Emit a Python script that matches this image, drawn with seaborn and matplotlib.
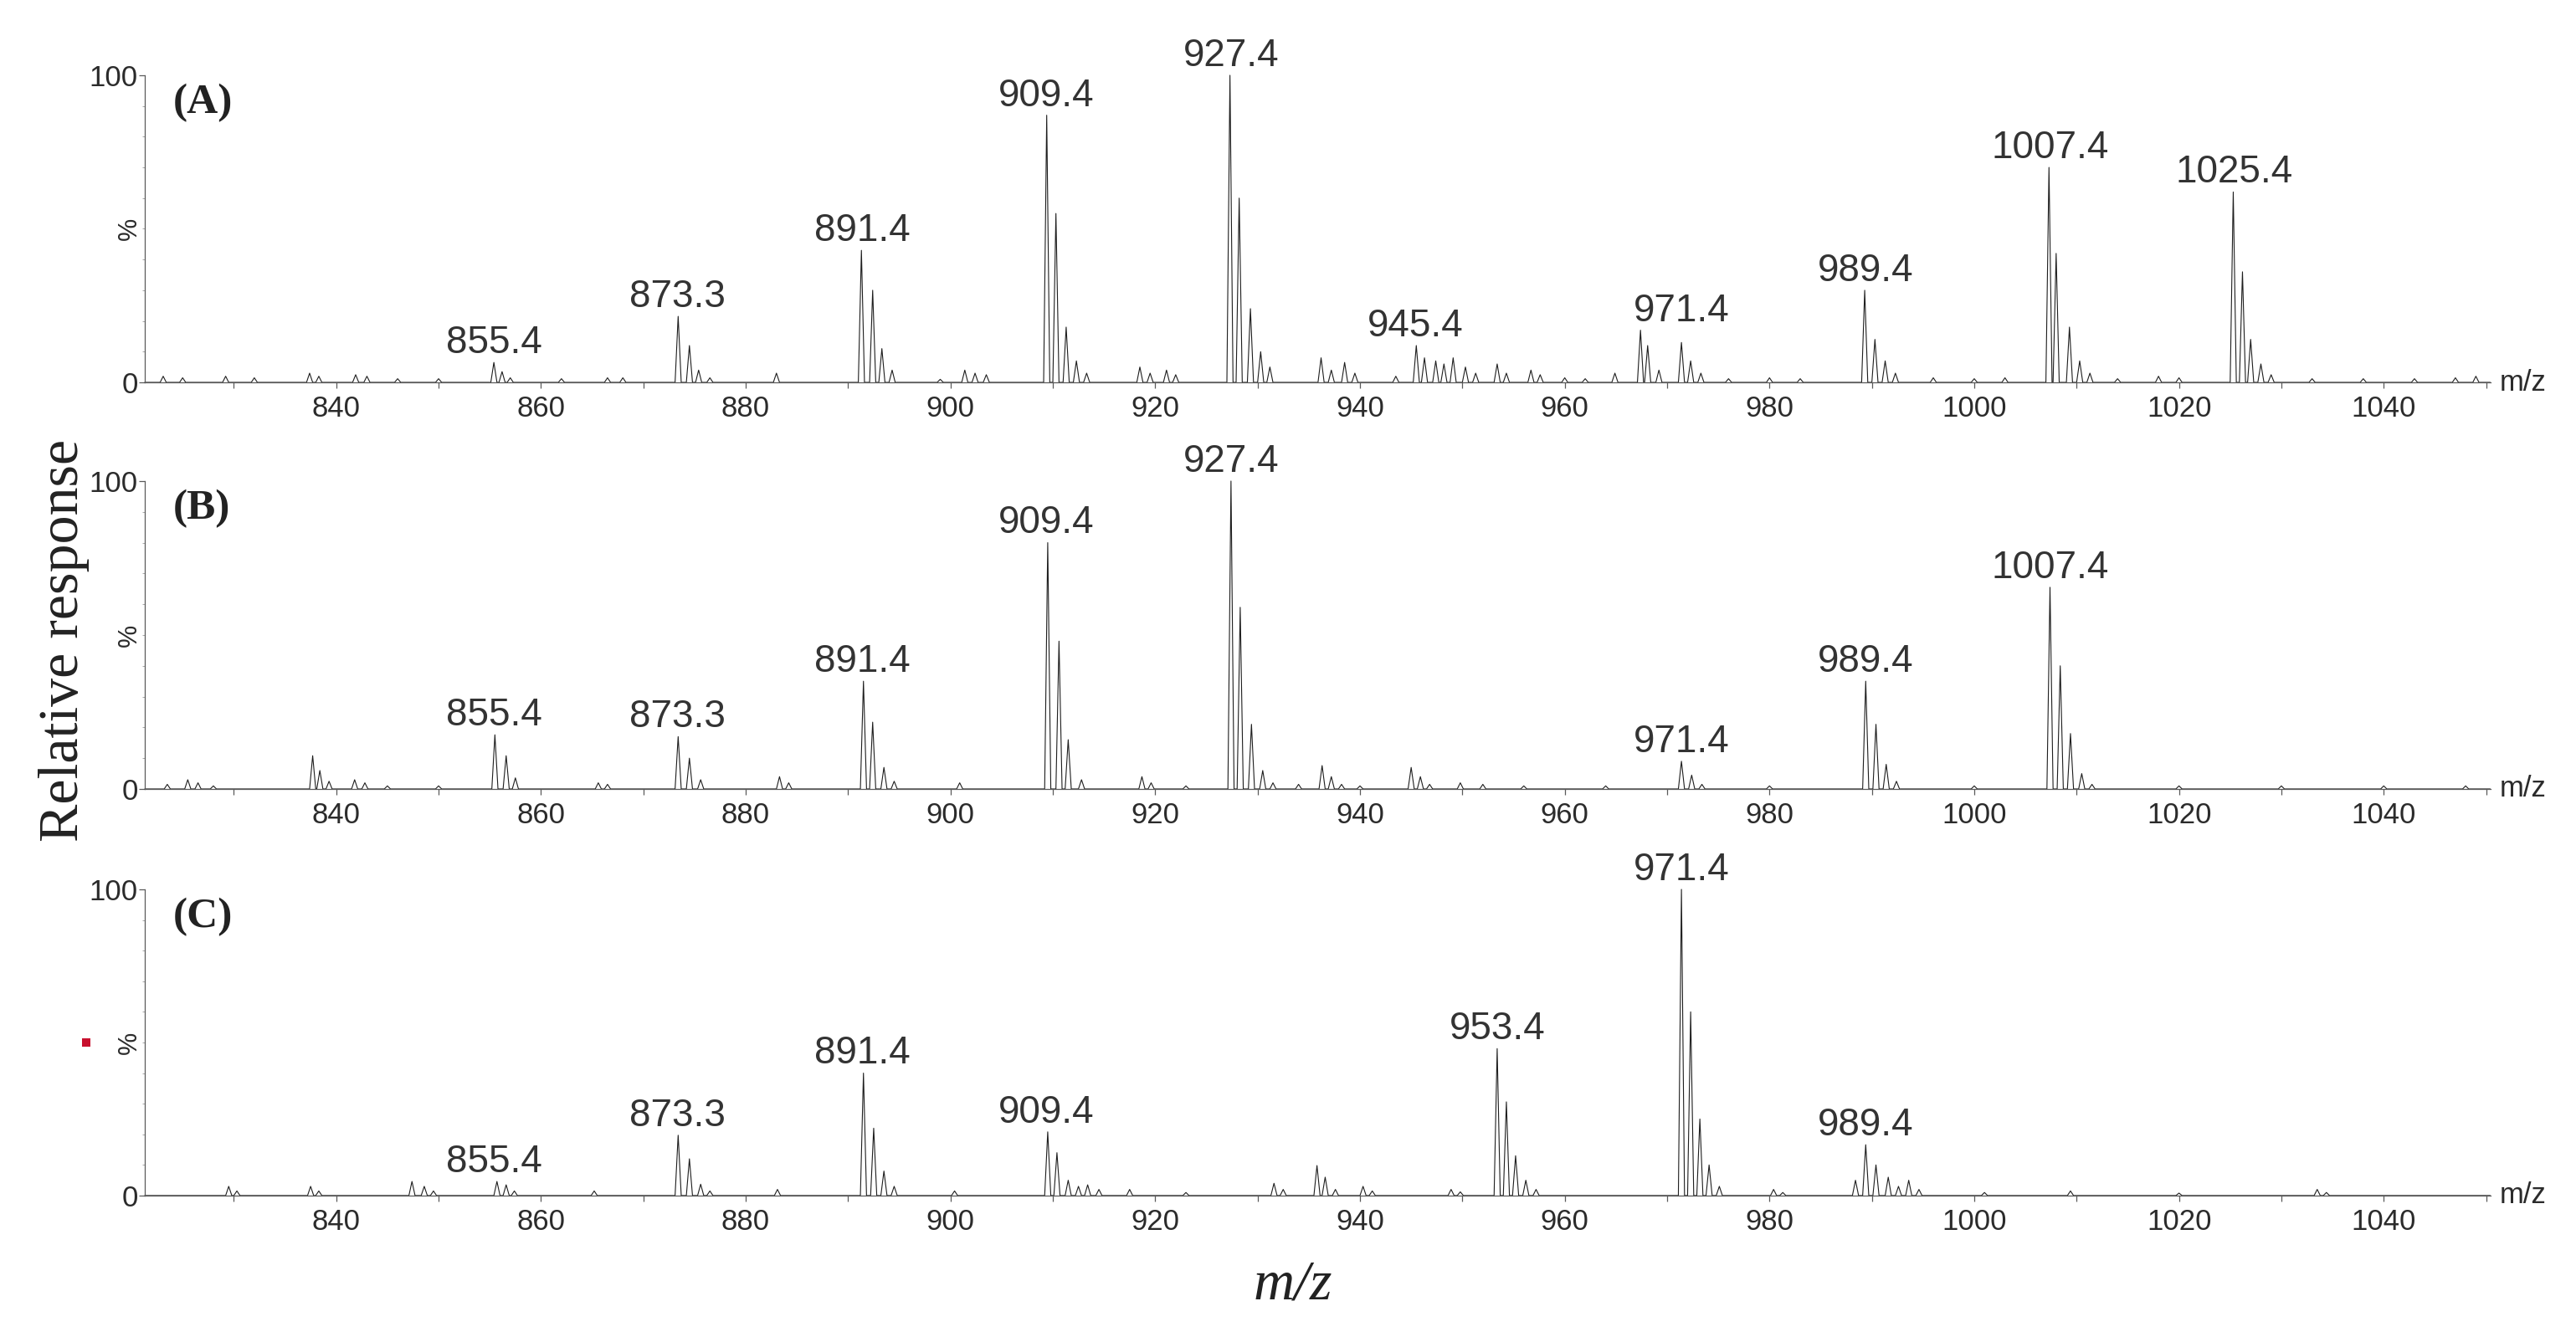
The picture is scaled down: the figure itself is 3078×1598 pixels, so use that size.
import pandas as pd
import matplotlib.pyplot as plt
import seaborn as sns
from matplotlib.ticker import MultipleLocator

# Spektren: Peaklagen (m/z) und relative Intensitaeten (%)
mz_a = [823.1, 825.0, 829.2, 832.0, 837.4, 838.3, 841.9, 843.0, 846.0, 850.0,
        855.4, 856.2, 857.0, 862.0, 866.5, 868.0, 873.4, 874.5, 875.4, 876.5,
        883.0, 891.3, 892.4, 893.3, 894.3, 899.0, 901.4, 902.4, 903.5,
        909.4, 910.3, 911.3, 912.3, 913.3, 918.5, 919.5, 921.1, 922.0,
        927.3, 928.2, 929.3, 930.3, 931.2, 936.2, 937.2, 938.5, 939.5, 943.5,
        945.5, 946.3, 947.4, 948.2, 949.1, 950.3, 951.3, 953.4, 954.3, 956.7,
        957.6, 960.0, 962.0, 964.9, 967.4, 968.1, 969.2, 971.4, 972.3, 973.3,
        976.0, 980.0, 983.0, 989.3, 990.3, 991.3, 992.3, 996.0, 1000.0, 1003.0,
        1007.3, 1008.0, 1009.3, 1010.3, 1011.3, 1014.0, 1018.0, 1020.0,
        1025.3, 1026.2, 1027.0, 1028.0, 1029.0, 1033.0, 1038.0, 1043.0, 1047.0, 1049.0]
int_a = [2, 1.5, 2, 1.5, 3, 2, 2.5, 2, 1.2, 1.2,
         6.5, 3.5, 1.5, 1.2, 1.5, 1.5, 21.5, 12, 4, 1.5,
         3, 43, 30, 11, 4, 1, 4, 3, 2.5,
         87, 55, 18, 7, 3, 5, 3, 4, 2.5,
         100, 60, 24, 10, 5, 8, 4, 6.5, 3, 2,
         12, 8, 7, 6, 8, 5, 3, 6, 3, 4,
         2.5, 1.5, 1.2, 3, 17, 12, 4, 13, 7, 3,
         1.2, 1.5, 1.2, 30, 14, 7, 3, 1.5, 1.2, 1.5,
         70, 42, 18, 7, 3, 1.2, 2, 1.5,
         62, 36, 14, 6, 2.5, 1.2, 1.2, 1.2, 1.5, 2]
labels_a = ['855.4', '873.3', '891.4', '909.4', '927.4', '945.4',
            '971.4', '989.4', '1007.4', '1025.4']

mz_b = [823.5, 825.5, 826.5, 828.0, 837.7, 838.4, 839.3, 841.8, 842.8, 845.0,
        850.0, 855.5, 856.6, 857.5, 865.6, 866.5, 873.4, 874.5, 875.6, 883.3,
        884.2, 891.5, 892.4, 893.5, 894.5, 900.9, 909.5, 910.6, 911.5, 912.8,
        918.7, 919.6, 923.0, 927.4, 928.3, 929.4, 930.5, 931.5, 934.0, 936.3,
        937.2, 938.2, 940.0, 945.0, 945.9, 946.8, 949.8, 952.0, 956.0, 964.0,
        971.4, 972.4, 973.4, 980.0, 989.4, 990.4, 991.4, 992.4, 1000.0,
        1007.4, 1008.4, 1009.4, 1010.5, 1011.5, 1020.0, 1030.0, 1040.0, 1048.0]
int_b = [1.5, 3, 2, 1, 10.8, 6, 2.5, 3, 2, 1,
         1, 17.6, 10.8, 3.6, 2, 1.5, 17, 10, 3, 4,
         2, 35, 21.7, 7, 2.5, 2, 80, 48, 16, 3,
         4, 2, 1, 100, 59, 21, 6, 2, 1.5, 7.6,
         4, 1.5, 1, 7, 4, 1.5, 2, 1.5, 1, 1,
         9, 4.5, 1.5, 1, 35, 21, 8, 2.5, 1,
         65.5, 40, 18, 5, 1.5, 1, 1, 1, 1]
labels_b = ['855.4', '873.3', '891.4', '909.4', '927.4', '971.4', '989.4', '1007.4']

mz_c = [829.5, 830.3, 837.5, 838.3, 847.4, 848.6, 849.5, 855.7, 856.6, 857.4,
        865.2, 873.4, 874.5, 875.6, 876.5, 883.1, 891.5, 892.5, 893.5, 894.5,
        900.4, 909.5, 910.4, 911.5, 912.5, 913.4, 914.5, 917.5, 923.0, 931.6,
        932.5, 935.8, 936.6, 937.6, 940.3, 941.2, 948.9, 949.8, 953.4, 954.3,
        955.2, 956.2, 957.2, 971.4, 972.3, 973.2, 974.1, 975.1, 980.4, 981.3,
        988.4, 989.4, 990.4, 991.6, 992.6, 993.6, 994.6, 1001.0, 1009.4, 1020.0,
        1033.5, 1034.4]
int_c = [3, 1.5, 3, 1.5, 4.6, 3, 1.5, 4.6, 3.5, 1.5,
         1.5, 19.7, 12, 3.7, 1.5, 2, 40, 22, 8, 3,
         1.5, 20.8, 14, 5, 3, 3.5, 2, 2, 1, 4,
         2, 9.8, 6, 2, 3, 1.5, 2, 1.2, 48, 30.6,
         13, 5, 2, 100, 60, 25, 10, 3, 2, 1,
         5, 16.6, 10, 6, 3, 5, 2, 1, 1.5, 0.8,
         2, 1]
labels_c = ['855.4', '873.3', '891.4', '909.4', '953.4', '971.4', '989.4']

XMIN, XMAX = 821.3, 1050.4
INK = '#1e1e1e'
AXC = '#5a5a5a'
SANS = 'Liberation Sans'
SERIF = 'Liberation Serif'


def profile(mz, inten, hw=0.3):
    # jeden Peak als schmales Dreieck auf der Basislinie zeichnen
    xs, ys = [XMIN], [0]
    for m, h in sorted(zip(mz, inten)):
        xs += [m - hw, m, m + hw]
        ys += [0, h, 0]
    xs.append(XMAX)
    ys.append(0)
    return pd.DataFrame({'mz': xs, 'rel': ys})


sns.set_theme(style='ticks')
plt.rcParams['font.family'] = [SANS, 'DejaVu Sans']

fig = plt.figure(figsize=(30.78, 15.98), dpi=100)

panels = [
    ('(A)', mz_a, int_a, labels_a, [0.0562, 0.7140, 0.9105, 0.2297]),
    ('(B)', mz_b, int_b, labels_b, [0.0562, 0.4099, 0.9105, 0.2303]),
    ('(C)', mz_c, int_c, labels_c, [0.0562, 0.1058, 0.9105, 0.2290]),
]

for tag, mz, inten, labels, pos in panels:
    ax = fig.add_axes(pos)
    df = profile(mz, inten)
    sns.lineplot(data=df, x='mz', y='rel', sort=False, estimator=None,
                 color=INK, linewidth=0.8, clip_on=False, ax=ax)
    ax.set_xlim(XMIN, XMAX)
    ax.set_ylim(0, 100)
    ax.set_xlabel('')
    ax.set_ylabel('')

    for side in ['top', 'right']:
        ax.spines[side].set_visible(False)
    for side in ['left', 'bottom']:
        ax.spines[side].set_color(AXC)
        ax.spines[side].set_linewidth(0.9)

    ax.set_xticks(range(840, 1041, 20))
    ax.xaxis.set_minor_locator(MultipleLocator(10))
    ax.set_yticks([0, 100])
    ax.yaxis.set_minor_locator(MultipleLocator(10))
    ax.tick_params(axis='x', which='both', direction='out', length=5, width=0.9,
                   color=AXC, pad=6, labelsize=25, labelcolor='#2b2b2b')
    ax.tick_params(axis='y', which='major', direction='out', length=5, width=0.9,
                   color=AXC, pad=1, labelsize=25, labelcolor='#2b2b2b')
    ax.tick_params(axis='y', which='minor', direction='out', length=2.5, width=0.6,
                   color='#999999')

    ax.text(-0.0065, 0.5, '%', transform=ax.transAxes, rotation=90,
            ha='center', va='center', fontsize=22, color='#2b2b2b')
    ax.text(0.012, 0.972, tag, transform=ax.transAxes, ha='left', va='top',
            family=SERIF, fontweight='bold', fontsize=37, color='#222222')
    ax.text(1.004, 0.0, 'm/z', transform=ax.transAxes, ha='left', va='center',
            fontsize=25, color='#2b2b2b')

    # Peakbeschriftungen ueber dem lokalen Maximum
    for lab in labels:
        v = float(lab)
        top = max(h for m, h in zip(mz, inten) if abs(m - v) <= 4)
        ax.annotate(lab, xy=(v, top), xytext=(0, 8), textcoords='offset points',
                    ha='center', va='baseline', fontsize=33, color='#333333',
                    annotation_clip=False)

fig.text(0.0247, 0.521, 'Relative response', rotation=90, ha='center', va='center',
         family=SERIF, fontsize=49, color='#222222')
fig.text(0.502, 0.039, 'm/z', ha='center', va='center', family=SERIF,
         style='italic', fontsize=49, color='#222222')

# kleines rotes Quadrat links neben Panel C
fig.add_artist(plt.Rectangle((0.0318, 0.2172), 0.00325, 0.00626,
                             transform=fig.transFigure, color='#c8102e', lw=0))

fig.savefig('out.png', dpi=100)
plt.close(fig)
